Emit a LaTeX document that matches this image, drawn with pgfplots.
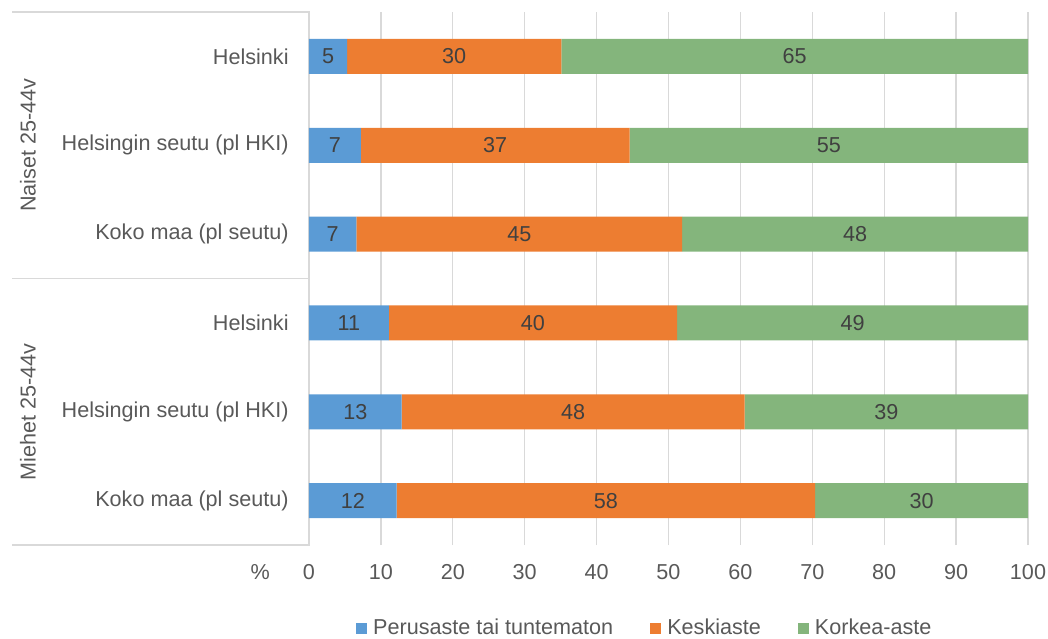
\documentclass[border=0pt]{standalone}
\usepackage{fontspec}
\setmainfont{Liberation Sans}
\usepackage{pgfplots}
\usepackage{pgfplotstable}
\pgfplotsset{compat=1.18}
\definecolor{cblue}{HTML}{5B9BD5}
\definecolor{corange}{HTML}{ED7D31}
\definecolor{cgreen}{HTML}{84B57C}
\definecolor{txt}{HTML}{595959}
\definecolor{lbl}{HTML}{404040}
\definecolor{gridc}{HTML}{D9D9D9}

% rows from bottom: Miehet (0-2), Naiset (3-5)
\pgfplotstableread{
row p k h
0 12.2 58.2 29.6
1 12.9 47.7 39.4
2 11.1 40.1 48.8
3 6.6 45.3 48.1
4 7.2 37.4 55.4
5 5.3 29.8 64.9
}\data

\pgfplotsset{
  sq legend/.style={legend image code/.code={\fill[##1] (0pt,-2.75pt) rectangle (5.5pt,2.75pt);}},
  seg/.style={fill=#1, draw=none, sq legend,
    nodes near coords={\pgfmathprintnumber[fixed,precision=0,assume math mode=true]{\segw}},
    every node near coord/.style={anchor=center, text=lbl, font=\fontsize{10.8}{13}\selectfont}},
}

\begin{document}
\begin{tikzpicture}[font=\fontsize{10.8}{13}\selectfont]
\path[use as bounding box] (-154.5pt,-46.5pt) rectangle (369.5pt,272.5pt);
\begin{axis}[
  at={(0,0)}, anchor=south west,
  scale only axis, width=359.5pt, height=266.5pt,
  xbar stacked, bar width=17.5pt,
  xmin=0, xmax=100, ymin=-0.5, ymax=5.5,
  xtick={0,10,...,100}, ytick={0,...,5},
  yticklabels={Koko maa (pl seutu), Helsingin seutu (pl HKI), Helsinki,
               Koko maa (pl seutu), Helsingin seutu (pl HKI), Helsinki},
  /pgf/number format/assume math mode=true,
  major tick length=0pt,
  axis line style={draw=none},
  xmajorgrids, grid style={gridc, line width=0.7pt},
  tick label style={text=txt, font=\fontsize{10.8}{13}\selectfont},
  xticklabel style={anchor=center, yshift=-13.5pt},
  yticklabel style={anchor=east, inner sep=0pt, xshift=-10pt},
  clip=false,
  legend style={at={(0.467,-0.156)}, anchor=center, draw=none, fill=none,
    legend columns=-1, text=txt, font=\fontsize{10.8}{13}\selectfont,
    /tikz/every odd column/.append style={column sep=2pt},
    /tikz/every even column/.append style={column sep=17.5pt},
    nodes={inner sep=1pt}},
  legend cell align=left,
]
\addplot[seg=cblue, visualization depends on={\thisrow{p} \as \segw}] table[x=p, y=row] {\data};
\addplot[seg=corange, visualization depends on={\thisrow{k} \as \segw}] table[x=k, y=row] {\data};
\addplot[seg=cgreen, visualization depends on={\thisrow{h} \as \segw}] table[x=h, y=row] {\data};
\legend{Perusaste tai tuntematon, Keskiaste, Korkea-aste}

\draw[gridc, line width=0.7pt] (axis cs:-41.3,5.5) -- (axis cs:0,5.5) -- (axis cs:0,-0.5) -- (axis cs:-41.3,-0.5);
\draw[gridc, line width=0.7pt] (axis cs:-41.3,2.5) -- (axis cs:0,2.5);
\node[rotate=90, text=txt] at (axis cs:-39.1,4) {Naiset 25-44v};
\node[rotate=90, text=txt] at (axis cs:-39.1,1) {Miehet 25-44v};
\node[text=txt, yshift=-13.5pt] at (axis cs:-6.8,-0.5) {\%};
\end{axis}
\end{tikzpicture}
\end{document}
